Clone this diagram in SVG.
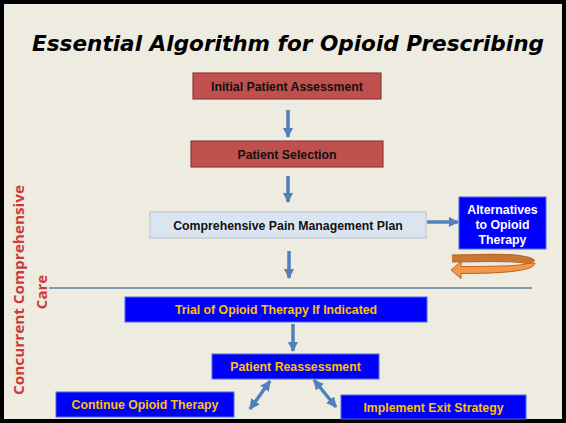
<svg xmlns="http://www.w3.org/2000/svg" width="566" height="423" viewBox="0 0 566 423">
<defs>
<style>
.bg{fill:#eeebe0;stroke:#000;stroke-width:4}
.red rect{fill:#c0504d;stroke:#8e3b39;stroke-width:1.2}
.blue rect{fill:#0000ff;stroke:#4f6fd6;stroke-width:1}
.lb rect{fill:#dbe5f1;stroke:#b8c2cc;stroke-width:1}
.t{font-family:"Liberation Sans",Arial,sans-serif;font-weight:bold;font-size:12.3px;text-anchor:middle}
.blk{fill:#111}
.gold{fill:#ffc000}
.wht{fill:#ffffff}
.arr{stroke:#4f81bd;stroke-width:3.5;fill:none}
.side{font-family:"Open Sans","Liberation Sans",sans-serif;font-weight:bold;font-size:15px;fill:#cc3b3b;text-anchor:middle}
</style>
<marker id="ah" viewBox="0 0 10 10" refX="9" refY="5" markerWidth="3" markerHeight="3" markerUnits="strokeWidth" orient="auto-start-reverse">
<path d="M0,0 L10,5 L0,10 z" fill="#4f81bd"/>
</marker>
</defs>
<rect class="bg" x="2" y="2" width="562" height="419"/>
<text x="288" y="51" font-family="DejaVu Sans,Verdana,sans-serif" font-weight="bold" font-style="italic" font-size="22" textLength="512" lengthAdjust="spacingAndGlyphs" text-anchor="middle" fill="#000">Essential Algorithm for Opioid Prescribing</text>

<g id="side-label">
<text class="side" transform="translate(24,290) rotate(-90)" textLength="210" lengthAdjust="spacingAndGlyphs">Concurrent Comprehensive</text>
<text class="side" transform="translate(47,292) rotate(-90)">Care</text>
</g>

<g id="connectors">
<line class="arr" x1="288" y1="110" x2="288" y2="137" marker-end="url(#ah)"/>
<line class="arr" x1="288" y1="176" x2="288" y2="202" marker-end="url(#ah)"/>
<line class="arr" x1="289" y1="251" x2="289" y2="278" marker-end="url(#ah)"/>
<line class="arr" x1="427" y1="222" x2="458" y2="222" marker-end="url(#ah)"/>
<line class="arr" x1="293" y1="324" x2="293" y2="351" marker-end="url(#ah)"/>
<line class="arr" x1="270" y1="381" x2="250" y2="409" marker-start="url(#ah)" marker-end="url(#ah)"/>
<line class="arr" x1="314" y1="380" x2="336" y2="407" marker-start="url(#ah)" marker-end="url(#ah)"/>
<line x1="49" y1="288" x2="532" y2="288" stroke="#5b7fa8" stroke-width="1.6"/>
<g id="loop-arrow">
<path d="M452,258.5 C490,257.5 527,256.5 532,263" stroke="#b8652a" stroke-width="8" fill="none"/>
<path d="M452,258.5 C490,257.5 526,257 531,263" stroke="#c97834" stroke-width="6" fill="none"/>
<path d="M461,266.5 C495,266.5 520,266 528,263.5 L535,263 C535,270 510,273.5 461,273.5 L461,278.5 L451,270 L461,261.5 Z" fill="#f79646" stroke="#b8652a" stroke-width="1"/>
</g>
</g>

<g id="initial" class="red">
<rect x="193" y="73" width="188" height="26"/>
<text class="t blk" x="287" y="90.5">Initial Patient Assessment</text>
</g>
<g id="selection" class="red">
<rect x="191" y="141" width="192" height="26"/>
<text class="t blk" x="287" y="158.5">Patient Selection</text>
</g>
<g id="plan" class="lb">
<rect x="150" y="212" width="276" height="26"/>
<text class="t blk" x="288" y="229.5">Comprehensive Pain Management Plan</text>
</g>
<g id="alternatives" class="blue">
<rect x="459" y="197" width="87" height="52"/>
<text class="t wht" x="502.5" y="213.5">Alternatives</text>
<text class="t wht" x="502.5" y="228.5">to Opioid</text>
<text class="t wht" x="502.5" y="243.5">Therapy</text>
</g>
<g id="trial" class="blue">
<rect x="125" y="297" width="302" height="25"/>
<text class="t gold" x="276" y="314">Trial of Opioid Therapy If Indicated</text>
</g>
<g id="reassessment" class="blue">
<rect x="212" y="354" width="167" height="25"/>
<text class="t gold" x="295.5" y="371">Patient Reassessment</text>
</g>
<g id="continue" class="blue">
<rect x="56" y="392" width="178" height="25"/>
<text class="t gold" x="145" y="409">Continue Opioid Therapy</text>
</g>
<g id="exit" class="blue">
<rect x="341" y="395" width="185" height="24"/>
<text class="t gold" x="433.5" y="411.5">Implement Exit Strategy</text>
</g>
</svg>
